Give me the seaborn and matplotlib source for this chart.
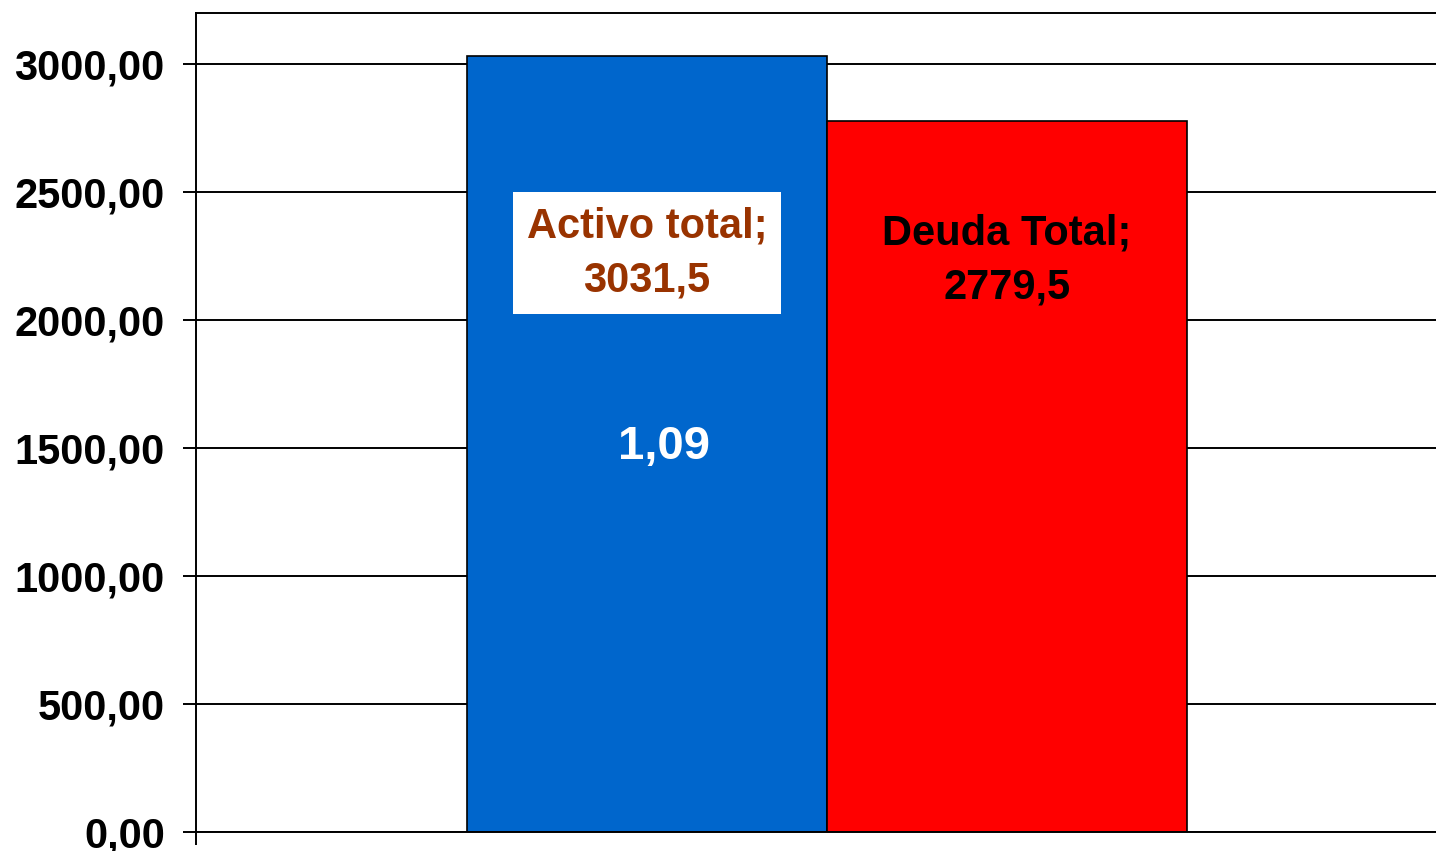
import pandas as pd
import seaborn as sns
import matplotlib.pyplot as plt
from matplotlib.ticker import FuncFormatter

# datos
series = ["Activo total", "Deuda Total"]
valores = [3031.5, 2779.5]
grupo = ["Balance", "Balance"]
ratio_texto = "1,09"

colores = ["#0066CC", "#FF0000"]
color_etiqueta = ["#993300", "#000000"]

df = pd.DataFrame({"grupo": grupo, "serie": series, "valor": valores})

sns.set_style("white")
plt.rcParams['font.family'] = ['Liberation Sans', 'DejaVu Sans']
plt.rcParams['font.weight'] = 'bold'
plt.rcParams['text.color'] = 'black'
plt.rcParams['ytick.color'] = 'black'
plt.rcParams['ytick.labelcolor'] = 'black'

fig = plt.figure(figsize=(14.36, 8.51), dpi=100)
# el area de trazado sigue mas alla del borde derecho, como en el original
ax = fig.add_axes([196 / 1436, 19 / 851, 1262 / 1436, 819 / 851])

sns.barplot(data=df, x="grupo", y="valor", hue="serie", palette=colores,
            edgecolor="black", linewidth=1.2, width=0.8, legend=False,
            saturation=1, ax=ax)

ax.set_xlim(-0.701, 0.701)
ax.set_ylim(0, 3200)
ax.set_yticks(range(0, 3001, 500))
ax.yaxis.set_major_formatter(FuncFormatter(lambda v, p: f"{v:.2f}".replace(".", ",")))
ax.set_xticks([-0.701])
ax.set_xticklabels([""])
ax.set_xlabel("")
ax.set_ylabel("")

ax.yaxis.grid(True, color="black", linewidth=1.4)
ax.set_axisbelow(True)
for s in ax.spines.values():
    s.set_color("black")
    s.set_linewidth(1.4)

ax.tick_params(axis="y", direction="out", length=9.5, width=1.4, color="black",
               labelcolor="black", labelsize=30, pad=13, left=True)
ax.tick_params(axis="x", direction="out", length=9.5, width=1.4, color="black",
               bottom=True)
for t in ax.get_yticklabels():
    t.set_fontweight("bold")

# etiquetas de datos
barras = sorted(ax.patches, key=lambda p: p.get_x())
offsets_y = [770, 545]
for i, (b, nombre, v) in enumerate(zip(barras, series, valores)):
    cx = b.get_x() + b.get_width() / 2
    txt = f"{nombre};\n{v:.1f}".replace(".", ",")
    kw = {}
    if i == 0:
        kw["bbox"] = dict(facecolor="white", edgecolor="none", pad=10)
    ax.text(cx, v - offsets_y[i], txt, ha="center", va="center", fontsize=30,
            fontweight="bold", color=color_etiqueta[i], linespacing=1.45, **kw)

# cociente activo / deuda
b0 = barras[0]
ax.text(b0.get_x() + b0.get_width() / 2 + 0.019, 1504, ratio_texto, ha="center",
        va="center", fontsize=34, fontweight="bold", color="white")

fig.savefig("out.png", dpi=100)
